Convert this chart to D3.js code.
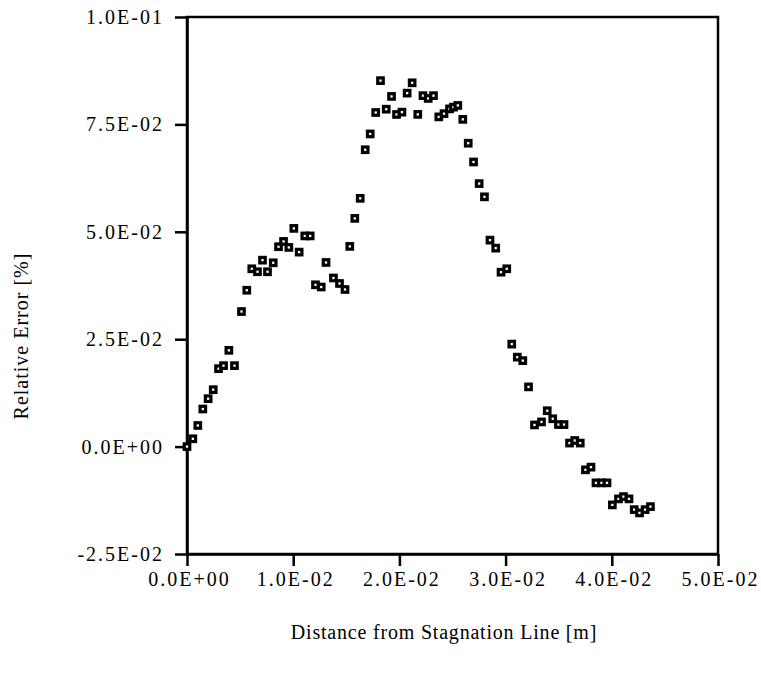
<!DOCTYPE html>
<html>
<head>
<meta charset="utf-8">
<script src="https://cdn.jsdelivr.net/npm/d3@7"></script>
<style>
  body { margin: 0; background: #fff; }
  svg { display: block; }
  .axis text { font-family: "Liberation Serif", "Times New Roman", serif; font-size: 20px; letter-spacing: 2px; fill: #000; }
  .title { font-family: "Liberation Serif", "Times New Roman", serif; font-size: 20px; fill: #000; }
</style>
</head>
<body>
<div id="chart"></div>
<script>
// Distance from stagnation line [m]
const distance = [
  0.00000, 0.00055, 0.00102, 0.00149, 0.00199, 0.00247, 0.00297, 0.00344, 0.00394, 0.00447,
  0.00513, 0.00563, 0.00610, 0.00664, 0.00711, 0.00758, 0.00812, 0.00862, 0.00909, 0.00959,
  0.01006, 0.01056, 0.01109, 0.01160, 0.01210, 0.01264, 0.01309, 0.01379, 0.01436, 0.01488,
  0.01533, 0.01580, 0.01631, 0.01678, 0.01725, 0.01777, 0.01822, 0.01876, 0.01926, 0.01973,
  0.02024, 0.02073, 0.02120, 0.02173, 0.02222, 0.02271, 0.02321, 0.02371, 0.02420, 0.02472,
  0.02509, 0.02550, 0.02597, 0.02648, 0.02698, 0.02751, 0.02801, 0.02853, 0.02907, 0.02957,
  0.03011, 0.03058, 0.03110, 0.03162, 0.03216, 0.03272, 0.03338, 0.03392, 0.03444, 0.03498,
  0.03550, 0.03602, 0.03651, 0.03703, 0.03752, 0.03804, 0.03851, 0.03903, 0.03955, 0.04005,
  0.04063, 0.04110, 0.04162, 0.04211, 0.04261, 0.04314, 0.04364
];

// Relative error [%]
const relError = [
  0.00000, 0.00182, 0.00492, 0.00875, 0.01115, 0.01325, 0.01814, 0.01884, 0.02241, 0.01884,
  0.03144, 0.03640, 0.04139, 0.04070, 0.04340, 0.04070, 0.04279, 0.04653, 0.04776, 0.04636,
  0.05079, 0.04527, 0.04904, 0.04904, 0.03766, 0.03715, 0.04286, 0.03925, 0.03797, 0.03657,
  0.04660, 0.05312, 0.05779, 0.06910, 0.07278, 0.07777, 0.08519, 0.07854, 0.08151, 0.07731,
  0.07785, 0.08228, 0.08468, 0.07733, 0.08169, 0.08104, 0.08169, 0.07675, 0.07750, 0.07861,
  0.07901, 0.07941, 0.07617, 0.07062, 0.06625, 0.06122, 0.05814, 0.04806, 0.04620, 0.04060,
  0.04139, 0.02386, 0.02083, 0.02001, 0.01390, 0.00504, 0.00574, 0.00835, 0.00648, 0.00513,
  0.00513, 0.00082, 0.00142, 0.00082, -0.00541, -0.00478, -0.00844, -0.00844, -0.00844, -0.01357,
  -0.01217, -0.01164, -0.01217, -0.01467, -0.01544, -0.01467, -0.01397
];

const xTicks = [0, 0.01, 0.02, 0.03, 0.04, 0.05];
const xTickLabels = ["0.0E+00", "1.0E-02", "2.0E-02", "3.0E-02", "4.0E-02", "5.0E-02"];
const yTicks = [-0.025, 0, 0.025, 0.05, 0.075, 0.1];
const yTickLabels = ["-2.5E-02", "0.0E+00", "2.5E-02", "5.0E-02", "7.5E-02", "1.0E-01"];

const W = 761, H = 677;
const plotLeft = 187, plotRight = 718, plotTop = 17, plotBottom = 554;

const svg = d3.select("#chart")
  .append("svg")
  .attr("width", W)
  .attr("height", H);

const x = d3.scaleLinear().domain([0, 0.05]).range([plotLeft, plotRight]);
const y = d3.scaleLinear().domain([-0.025, 0.1]).range([plotBottom, plotTop]);

// frame
svg.append("rect")
  .attr("x", plotLeft)
  .attr("y", plotTop)
  .attr("width", plotRight - plotLeft)
  .attr("height", plotBottom - plotTop)
  .attr("fill", "none")
  .attr("stroke", "#000")
  .attr("stroke-width", 2.5);

svg.append("g")
  .attr("class", "axis")
  .attr("transform", `translate(0, ${plotBottom})`)
  .call(d3.axisBottom(x)
    .tickValues(xTicks)
    .tickFormat((d, i) => xTickLabels[i])
    .tickSize(12)
    .tickSizeOuter(0)
    .tickPadding(6))
  .selectAll("text")
  .attr("dx", 2);

svg.append("g")
  .attr("class", "axis")
  .attr("transform", `translate(${plotLeft}, 0)`)
  .call(d3.axisLeft(y)
    .tickValues(yTicks)
    .tickFormat((d, i) => yTickLabels[i])
    .tickSize(12)
    .tickSizeOuter(0)
    .tickPadding(11));

svg.selectAll(".axis .domain, .axis line")
  .attr("stroke", "#000")
  .attr("stroke-width", 2.5);

// data points: small squares with a white centre
const pts = distance.map((d, i) => ({ x: d, y: relError[i] }));
const s = 5.5;
svg.append("g")
  .selectAll("rect")
  .data(pts)
  .enter().append("rect")
  .attr("x", d => x(d.x) - s / 2)
  .attr("y", d => y(d.y) - s / 2)
  .attr("width", s)
  .attr("height", s)
  .attr("fill", "#fff")
  .attr("stroke", "#000")
  .attr("stroke-width", 3.2);

// axis titles
svg.append("text")
  .attr("class", "title")
  .attr("x", 444)
  .attr("y", 639)
  .attr("text-anchor", "middle")
  .style("letter-spacing", "0.8px")
  .text("Distance from Stagnation Line [m]");

svg.append("text")
  .attr("class", "title")
  .attr("transform", "translate(28, 336) rotate(-90)")
  .attr("text-anchor", "middle")
  .style("letter-spacing", "1px")
  .text("Relative Error [%]");
</script>
</body>
</html>
